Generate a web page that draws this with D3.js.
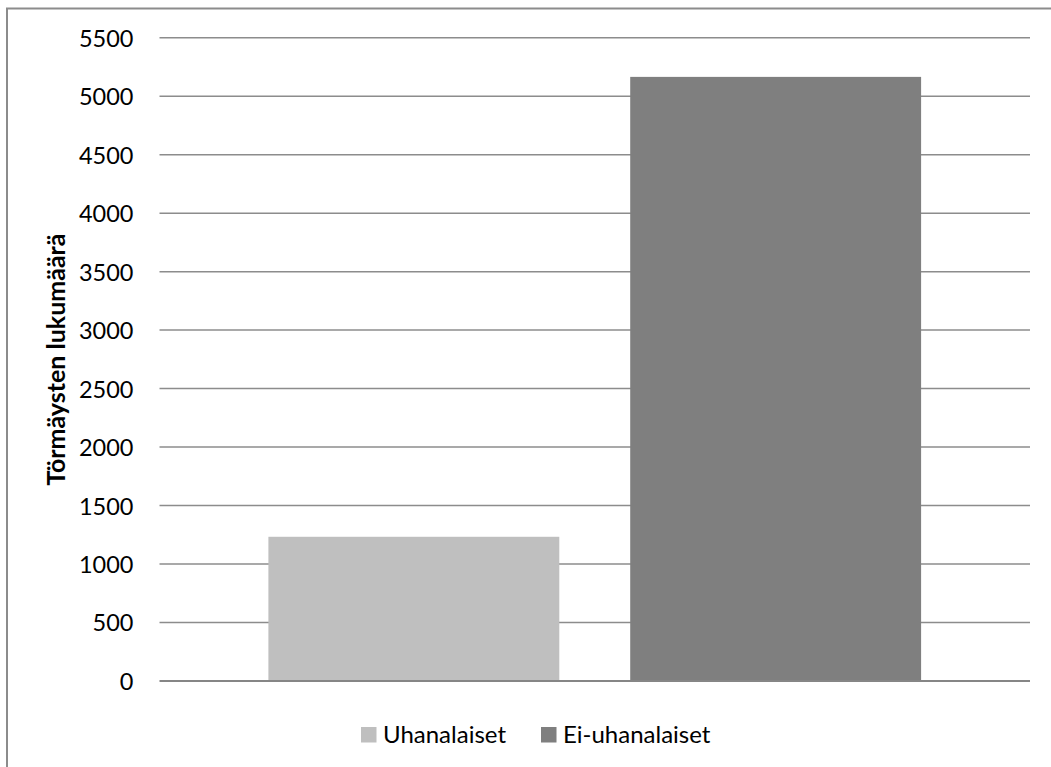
<!DOCTYPE html>
<html>
<head>
<meta charset="utf-8">
<script src="https://cdn.jsdelivr.net/npm/d3@7/dist/d3.min.js"></script>
<style>
  html, body { margin: 0; padding: 0; background: #fff; }
  svg { display: block; }
  text { font-family: Lato, "Open Sans", sans-serif; fill: #000; }
</style>
</head>
<body>
<svg id="chart" width="1051" height="767"></svg>
<script>
// Collisions by conservation status
const series = ["Uhanalaiset", "Ei-uhanalaiset"];
const values = [1233, 5165];
const colors = ["#bfbfbf", "#7f7f7f"];
const yTicks = [0, 500, 1000, 1500, 2000, 2500, 3000, 3500, 4000, 4500, 5000, 5500];
const yTitle = "Törmäysten lukumäärä";

const W = 1051, H = 767;
const plot = { left: 159.5, right: 1030, top: 37.7, bottom: 681 };

const svg = d3.select("#chart");

// outer frame (runs past the right and bottom edges)
svg.append("rect")
  .attr("x", 7).attr("y", 8.5)
  .attr("width", W + 20).attr("height", H + 20)
  .attr("fill", "none").attr("stroke", "#8c8c8c").attr("stroke-width", 2);

const y = d3.scaleLinear().domain([0, 5500]).range([plot.bottom, plot.top]);
const x = d3.scaleBand().domain(series).range([plot.left, plot.right])
  .paddingInner(0.196).paddingOuter(0.301);

// gridlines
svg.append("g").selectAll("line").data(yTicks.filter(d => d > 0)).join("line")
  .attr("x1", plot.left).attr("x2", plot.right)
  .attr("y1", d => y(d)).attr("y2", d => y(d))
  .attr("stroke", "#8c8c8c").attr("stroke-width", 1.5);

// y axis labels
const yAxis = d3.axisLeft(y).tickValues(yTicks).tickFormat(d3.format("d"))
  .tickSize(0).tickPadding(26);
const gy = svg.append("g").attr("transform", `translate(${plot.left},0)`).call(yAxis);
gy.select(".domain").remove();
gy.selectAll("text")
  .attr("font-family", "Lato, 'Open Sans', sans-serif")
  .attr("font-size", 23.5).attr("fill", "#000").attr("dy", "0.36em");

// bars
svg.append("g").selectAll("rect").data(series).join("rect")
  .attr("x", d => x(d))
  .attr("width", x.bandwidth())
  .attr("y", (d, i) => y(values[i]))
  .attr("height", (d, i) => y(0) - y(values[i]))
  .attr("fill", (d, i) => colors[i]);

// baseline
svg.append("line")
  .attr("x1", plot.left).attr("x2", plot.right)
  .attr("y1", y(0)).attr("y2", y(0))
  .attr("stroke", "#868686").attr("stroke-width", 2);

// y axis title
svg.append("text")
  .attr("transform", `translate(65,359.5) rotate(-90)`)
  .attr("text-anchor", "middle")
  .attr("font-weight", "bold").attr("font-size", 25)
  .text(yTitle);

// legend
const legendX = [361, 541];
const lg = svg.append("g").selectAll("g").data(series).join("g")
  .attr("transform", (d, i) => `translate(${legendX[i]},727)`);
lg.append("rect").attr("width", 15.5).attr("height", 15.5)
  .attr("fill", (d, i) => colors[i]);
lg.append("text").attr("x", 22).attr("y", 15.5)
  .attr("font-size", 24).text(d => d);
</script>
</body>
</html>
